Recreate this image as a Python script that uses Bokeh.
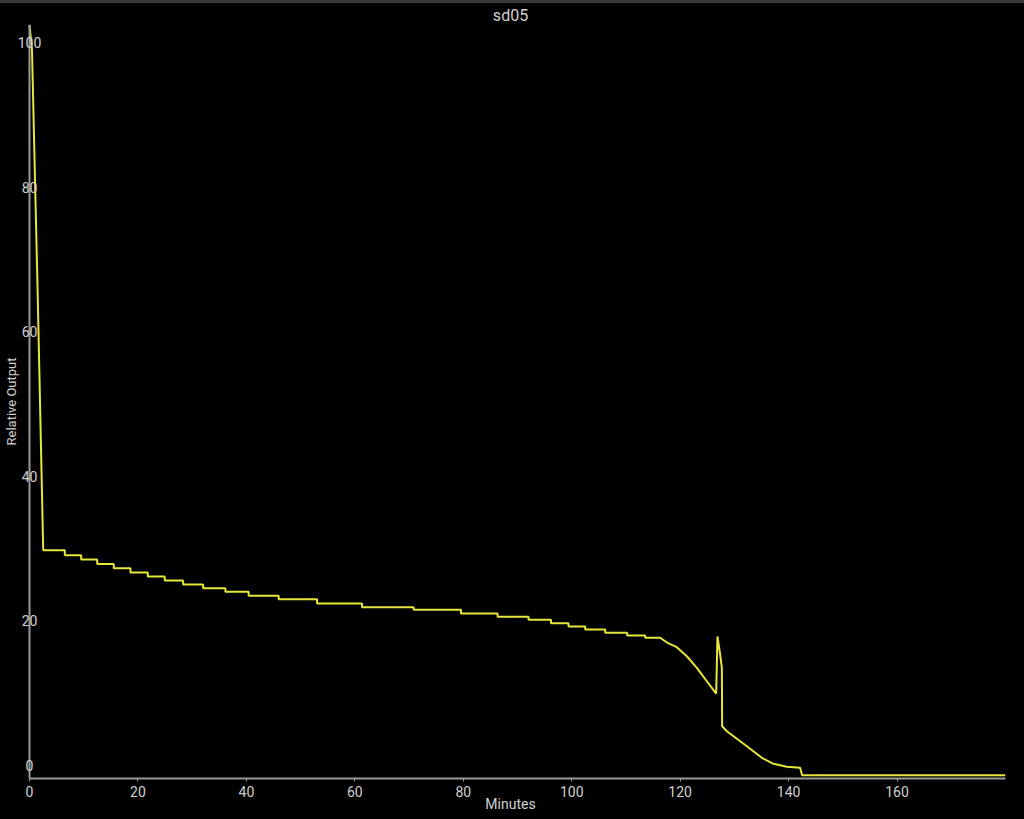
from bokeh.plotting import figure
from bokeh.models import Range1d, FixedTicker, Label, Span
from bokeh.embed import file_html
from bokeh.resources import INLINE

title_text = "sd05"
x_label = "Minutes"
y_label = "Relative Output"
x_ticks = [0, 20, 40, 60, 80, 100, 120, 140, 160]
y_ticks = [0, 20, 40, 60, 80, 100]
x_min, x_max = 0, 180
y_min, y_max = -1.38, 102.9

minutes = [
    0.0, 0.46, 1.47, 2.53,
    6.51, 6.51, 9.53, 9.53, 12.48, 12.48, 15.54, 15.54, 18.62, 18.62,
    21.81, 21.81, 24.94, 24.94, 28.33, 28.33, 32.02, 32.02, 36.13, 36.13,
    40.42, 40.42, 45.95, 45.95, 53.03, 53.03, 61.33, 61.33, 70.84, 70.84,
    79.58, 79.58, 86.32, 86.32, 92.04, 92.04, 96.17, 96.17, 99.41, 99.41,
    102.49, 102.49, 106.18, 106.18, 110.23, 110.23, 113.55, 113.55, 116.31,
    117.66, 119.39, 121.23, 123.08, 124.92, 126.64,
    126.88, 127.37, 127.69, 127.74,
    128.61, 132.30, 135.06, 137.20, 139.67, 142.12, 142.49, 180.0]

output = [
    102.8, 99.4, 66.9, 30.2,
    30.2, 29.5, 29.5, 28.9, 28.9, 28.3, 28.3, 27.7, 27.7, 27.1,
    27.1, 26.56, 26.56, 26.0, 26.0, 25.45, 25.45, 24.94, 24.94, 24.44,
    24.44, 23.89, 23.89, 23.42, 23.42, 22.84, 22.84, 22.31, 22.31, 21.95,
    21.95, 21.44, 21.44, 20.98, 20.98, 20.57, 20.57, 20.1, 20.1, 19.64,
    19.64, 19.23, 19.23, 18.77, 18.77, 18.4, 18.4, 18.08, 18.08,
    17.39, 16.78, 15.53, 13.93, 12.07, 10.37,
    18.26, 15.77, 13.93, 5.85,
    5.16, 3.08, 1.48, 0.65, 0.24, 0.1, -0.93, -0.93]

FONT = "Roboto"
AXIS_COLOR = "#9a9a9a"
TEXT_COLOR = "#d0d0d0"

# frame is widened a little to the left of x=0 so the centred y labels are not clipped
p = figure(
    frame_width=990, frame_height=754,
    min_border_left=15, min_border_right=19, min_border_top=17, min_border_bottom=45,
    x_range=Range1d(-2.582, x_max), y_range=Range1d(y_min, y_max),
    output_backend="svg", toolbar_location=None,
    background_fill_color="black", border_fill_color="black",
    outline_line_color=None, title=title_text,
)

p.title.align = "center"
p.title.text_color = TEXT_COLOR
p.title.text_font = FONT
p.title.text_font_size = "16px"
p.title.text_font_style = "normal"
p.title.standoff = 0

p.grid.visible = False

xa = p.xaxis[0]
xa.ticker = FixedTicker(ticks=x_ticks)
xa.bounds = (x_min, x_max)
xa.axis_line_color = AXIS_COLOR
xa.axis_line_width = 2
xa.major_tick_line_color = AXIS_COLOR
xa.major_tick_out = 3
xa.major_tick_in = 0
xa.minor_tick_line_color = None
xa.major_label_text_color = TEXT_COLOR
xa.major_label_text_font = FONT
xa.major_label_text_font_size = "14px"
xa.major_label_standoff = 4
xa.axis_label = x_label
xa.axis_label_text_color = TEXT_COLOR
xa.axis_label_text_font = FONT
xa.axis_label_text_font_size = "14px"
xa.axis_label_text_font_style = "normal"
xa.axis_label_standoff = -4

ya = p.yaxis[0]
ya.ticker = FixedTicker(ticks=y_ticks)
ya.axis_line_color = None
ya.major_tick_line_color = None
ya.major_tick_out = 0
ya.major_tick_in = 0
ya.minor_tick_line_color = None
ya.major_label_overrides = {t: "" for t in y_ticks}
ya.major_label_standoff = 0
ya.axis_label = y_label
ya.axis_label_text_color = TEXT_COLOR
ya.axis_label_text_font = FONT
ya.axis_label_text_font_size = "13px"
ya.axis_label_text_font_style = "normal"
ya.axis_label_standoff = -3

# y axis line at x = 0
p.add_layout(Span(location=x_min, dimension="height", line_color=AXIS_COLOR, line_width=2))

# y tick labels drawn centred on the axis line, as in the reference
for t in y_ticks:
    p.add_layout(Label(x=x_min, y=t, y_offset=3, text=str(t), text_align="center",
                       text_baseline="middle", text_color=TEXT_COLOR, text_font=FONT,
                       text_font_size="14px"))

p.line(minutes, output, line_color="#e6e63c", line_width=2)

html = file_html(p, INLINE, title=title_text)
html = html.replace(
    "<head>",
    "<head><style>html,body{margin:0;padding:0;background:#000;overflow:hidden;}"
    "body{border-top:3px solid #3a3a3a;}</style>",
    1,
)
open("out.html", "w").write(html)
